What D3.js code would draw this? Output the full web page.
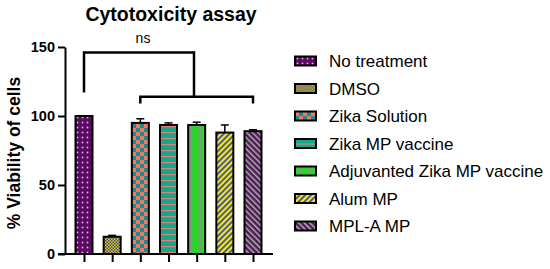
<!DOCTYPE html>
<html>
<head>
<meta charset="utf-8">
<script src="https://cdn.jsdelivr.net/npm/d3@7"></script>
<style>
body{margin:0;background:#fff;}
svg{font-family:"Liberation Sans",Arial,sans-serif;}
</style>
</head>
<body>
<svg id="chart" width="550" height="269"></svg>
<script>
var groups=["No treatment","DMSO","Zika Solution","Zika MP vaccine","Adjuvanted Zika MP vaccine","Alum MP","MPL-A MP"];
var means=[100,12.5,95,93.5,93.5,88,89];
var errors=[0,1,3,1.5,2,5.5,1];
var yTicks=[0,50,100,150];

var w=550,h=269;
var svg=d3.select("#chart");
var defs=svg.append("defs");

// fill patterns, one per group
function pat(id,size){
  return defs.append("pattern").attr("id",id)
    .attr("patternUnits","userSpaceOnUse")
    .attr("width",size).attr("height",size);
}
var p;
p=pat("p0",5);
p.append("rect").attr("width",5).attr("height",5).attr("fill","#5a0a60");
p.append("circle").attr("cx",2.5).attr("cy",2.5).attr("r",0.9).attr("fill","#e0b0e8");
p=pat("p1",3);
p.append("rect").attr("width",3).attr("height",3).attr("fill","#d8d81c");
p.append("rect").attr("width",1.5).attr("height",1.5).attr("fill","#4a3a7a");
p.append("rect").attr("x",1.5).attr("y",1.5).attr("width",1.5).attr("height",1.5).attr("fill","#4a3a7a");
p=pat("p2",8);
p.append("rect").attr("width",8).attr("height",8).attr("fill","#f07a5e");
p.append("rect").attr("width",4).attr("height",4).attr("fill","#1f8a94");
p.append("rect").attr("x",4).attr("y",4).attr("width",4).attr("height",4).attr("fill","#1f8a94");
p=pat("p3",6);
p.append("rect").attr("width",6).attr("height",6).attr("fill","#14a88a");
p.append("rect").attr("y",0).attr("width",6).attr("height",1.2).attr("fill","#e0807a");
p=pat("p4",5);
p.append("rect").attr("width",5).attr("height",5).attr("fill","#2fd22f");
p.append("rect").attr("x",0).attr("width",1).attr("height",5).attr("fill","#7a9a7a");
p=pat("p5",4);
p.attr("patternTransform","rotate(45)");
p.append("rect").attr("width",4).attr("height",4).attr("fill","#f4ec10");
p.append("rect").attr("width",1.7).attr("height",4).attr("fill","#3440b0");
p=pat("p6",4);
p.attr("patternTransform","rotate(-45)");
p.append("rect").attr("width",4).attr("height",4).attr("fill","#561560");
p.append("rect").attr("width",1.4).attr("height",4).attr("fill","#a8c0a0");

var xScale=d3.scalePoint().domain(groups).range([84,253]);
var yScale=d3.scaleLinear().domain([0,150]).range([254,47]);
var barW=17;

// title
svg.append("text").attr("x",171).attr("y",21)
   .attr("text-anchor","middle").attr("font-weight","bold")
   .attr("font-size",19.5).text("Cytotoxicity assay");

// y label
svg.append("text")
   .attr("transform","translate(20,153) rotate(-90)")
   .attr("text-anchor","middle").attr("font-weight","bold")
   .attr("font-size",17.5).text("% Viability of cells");

// bars
svg.selectAll("rect.bar").data(groups).enter().append("rect")
   .attr("class","bar")
   .attr("x",function(d){return xScale(d)-barW/2;})
   .attr("y",function(d,i){return yScale(means[i]);})
   .attr("width",barW)
   .attr("height",function(d,i){return yScale(0)-yScale(means[i]);})
   .attr("fill",function(d,i){return "url(#p"+i+")";})
   .attr("stroke","#000").attr("stroke-width",2);

// error bars (upper only)
var eg=svg.selectAll("g.err").data(groups).enter().append("g").attr("class","err");
eg.append("line")
  .attr("x1",function(d){return xScale(d);})
  .attr("x2",function(d){return xScale(d);})
  .attr("y1",function(d,i){return yScale(means[i]);})
  .attr("y2",function(d,i){return yScale(means[i]+errors[i]);})
  .attr("stroke","#000").attr("stroke-width",1.5);
eg.append("line")
  .attr("x1",function(d){return xScale(d)-4;})
  .attr("x2",function(d){return xScale(d)+4;})
  .attr("y1",function(d,i){return yScale(means[i]+errors[i]);})
  .attr("y2",function(d,i){return yScale(means[i]+errors[i]);})
  .attr("stroke","#000").attr("stroke-width",1.5);

// axes
var yAxis=d3.axisLeft(yScale).tickValues(yTicks).tickSize(7).tickSizeOuter(0).tickPadding(3);
var yg=svg.append("g").attr("transform","translate(65,0)").call(yAxis);
yg.selectAll("text").attr("font-size",14.5).attr("font-weight","bold").attr("fill","#000")
  .attr("font-family","Liberation Sans, Arial, sans-serif");
yg.selectAll("line,path").attr("stroke","#000").attr("stroke-width",2);

var xAxis=d3.axisBottom(xScale).tickSize(8).tickSizeOuter(0).tickFormat("");
var xg=svg.append("g").attr("transform","translate(0,254)").call(xAxis);
xg.select("path").attr("d","M58,0H273");
xg.selectAll("line,path").attr("stroke","#000").attr("stroke-width",2);

// significance brackets
var topY=yScale(146), midY=yScale(114);
var br=svg.append("g").attr("fill","none").attr("stroke","#000").attr("stroke-width",2.5);
br.append("path").attr("d","M"+xScale(groups[0])+","+yScale(117)+"V"+topY+"H194V"+midY);
br.append("path").attr("d","M"+xScale(groups[2])+","+yScale(109)+"V"+midY+"H"+xScale(groups[6])+"V"+yScale(109));
svg.append("text").attr("x",143).attr("y",43).attr("text-anchor","middle")
   .attr("font-size",14).text("ns");

// legend
var lg=svg.selectAll("g.leg").data(groups).enter().append("g").attr("class","leg")
   .attr("transform",function(d,i){return "translate(295,"+(61+i*27.5)+")";});
lg.append("rect").attr("x",0).attr("y",-4.5).attr("width",21).attr("height",9)
  .attr("fill",function(d,i){return "url(#p"+i+")";})
  .attr("stroke","#000").attr("stroke-width",2);
lg.append("text").attr("x",34).attr("y",6).attr("font-size",17).text(function(d){return d;});
</script>
</body>
</html>
